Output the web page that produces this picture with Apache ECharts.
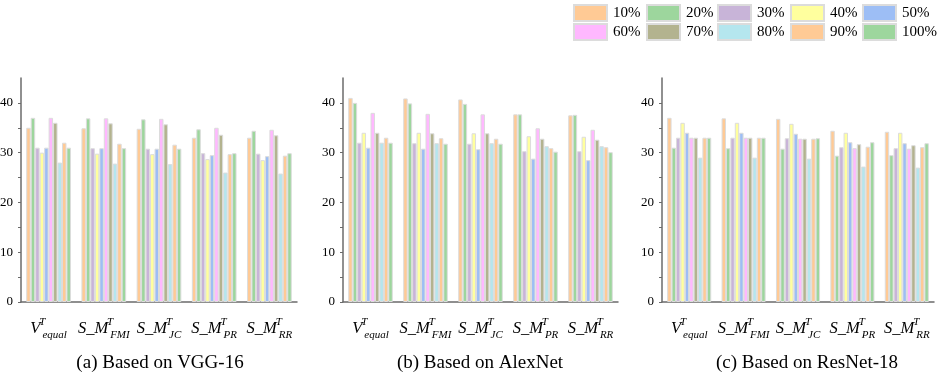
<!DOCTYPE html>
<html>
<head>
<meta charset="utf-8">
<script src="https://cdn.jsdelivr.net/npm/echarts@6/dist/echarts.min.js"></script>
<style>
  html, body { margin: 0; padding: 0; background: #fff; }
  #chart { width: 945px; height: 376px; }
</style>
</head>
<body>
<div id="chart"></div>
<script>
// Pruning ratios (one bar per ratio within each method group)
const ratios = ['10%', '20%', '30%', '40%', '50%', '60%', '70%', '80%', '90%', '100%'];
const ratioColors = ['#FFCA95', '#9DD69D', '#C8B4D8', '#FFFF9E', '#9DBEF5',
                     '#FFB8FF', '#B3B38F', '#B5E6EE', '#FFCA95', '#9DD69D'];

// Methods on the x axis: main symbol, superscript, subscript
const categories = ['V_equal', 'S_M_FMI', 'S_M_JC', 'S_M_PR', 'S_M_RR'];
const catMain = ['V', 'S_M', 'S_M', 'S_M', 'S_M'];
const catSup = 'T';
const catSub = ['equal', 'FMI', 'JC', 'PR', 'RR'];

const yTicks = [0, 10, 20, 30, 40];
const panelTitles = ['(a) Based on VGG-16', '(b) Based on AlexNet', '(c) Based on ResNet-18'];

// Rows: ratio 10% .. 100%; columns: the five methods
const vgg16Values = [
  [35.0, 34.9, 34.8, 33.0, 33.0],
  [37.0, 36.9, 36.7, 34.7, 34.4],
  [31.0, 30.9, 30.8, 29.9, 29.8],
  [30.0, 29.8, 29.7, 28.7, 28.5],
  [31.0, 30.9, 30.8, 29.5, 29.3],
  [37.0, 36.9, 36.8, 35.0, 34.6],
  [36.0, 35.9, 35.7, 33.6, 33.5],
  [28.0, 27.8, 27.7, 26.0, 25.8],
  [32.0, 31.8, 31.6, 29.7, 29.4],
  [31.0, 30.9, 30.8, 29.9, 29.9]
];
const alexNetValues = [
  [41.0, 40.9, 40.7, 37.7, 37.5],
  [40.0, 39.9, 39.8, 37.7, 37.6],
  [32.0, 31.9, 31.8, 30.3, 30.3],
  [34.0, 34.0, 33.9, 33.3, 33.2],
  [31.0, 30.8, 30.7, 28.8, 28.5],
  [38.0, 37.8, 37.7, 34.9, 34.6],
  [34.0, 33.9, 33.9, 32.8, 32.6],
  [32.0, 31.9, 31.9, 31.3, 31.3],
  [33.0, 32.9, 32.8, 30.9, 31.1],
  [32.0, 31.8, 31.8, 30.2, 30.1]
];
const resNet18Values = [
  [37.0, 36.9, 36.8, 34.4, 34.2],
  [31.0, 30.9, 30.8, 29.4, 29.5],
  [33.0, 33.0, 32.9, 31.1, 30.9],
  [36.0, 36.0, 35.8, 34.0, 34.0],
  [34.0, 34.0, 33.8, 32.1, 31.9],
  [33.0, 33.0, 32.8, 30.9, 30.8],
  [33.0, 33.0, 32.8, 31.7, 31.5],
  [29.0, 29.0, 28.8, 27.2, 27.0],
  [33.0, 33.0, 32.8, 31.2, 31.1],
  [33.0, 33.0, 32.9, 32.1, 31.9]
];
const panelValues = [vgg16Values, alexNetValues, resNet18Values];

const SERIF = '"Liberation Serif", "Times New Roman", serif';
const AXIS_GREY = '#6b6b6b';

// Plot areas of the three panels (fixed, labels may sit close to the edge)
const grids = [
  { left: 21,  right: 648, top: 78, bottom: 74, outerBoundsMode: 'none', containLabel: false },
  { left: 343, right: 327, top: 78, bottom: 74, outerBoundsMode: 'none', containLabel: false },
  { left: 662, right: 11,  top: 78, bottom: 74, outerBoundsMode: 'none', containLabel: false }
];
const titleX = [160, 480, 807];

// Italic symbol with a stacked superscript / subscript
const rich = {
  m:   { fontFamily: SERIF, fontStyle: 'italic', fontSize: 16.5, color: '#000', lineHeight: 24, verticalAlign: 'middle' },
  sup: { fontFamily: SERIF, fontStyle: 'italic', fontSize: 11, color: '#000', lineHeight: 11, verticalAlign: 'top', width: 0, align: 'left', padding: [0, 0, 0, 2] },
  sub: { fontFamily: SERIF, fontStyle: 'italic', fontSize: 11, color: '#000', lineHeight: 15, verticalAlign: 'bottom' }
};

const xAxes = grids.map((g, i) => ({
  type: 'category',
  gridIndex: i,
  data: categories,
  axisLine: { lineStyle: { color: AXIS_GREY, width: 1.5 } },
  axisTick: { alignWithLabel: true, length: 4, lineStyle: { color: AXIS_GREY } },
  axisLabel: {
    margin: 15,
    interval: 0,
    formatter: (v, idx) => '{m|' + catMain[idx] + '}{sup|' + catSup + '}{sub|' + catSub[idx] + '}',
    rich: rich
  }
}));

const yAxes = grids.map((g, i) => ({
  type: 'value',
  gridIndex: i,
  min: 0,
  max: 45,
  interval: 10,
  splitLine: { show: false },
  axisLine: { show: true, lineStyle: { color: AXIS_GREY, width: 1.5 } },
  axisTick: { show: true, length: 3, customValues: [0, 5, 10, 15, 20, 25, 30, 35, 40], lineStyle: { color: AXIS_GREY } },
  axisLabel: {
    customValues: yTicks,
    margin: 8,
    color: '#000',
    fontFamily: SERIF,
    fontSize: 13
  }
}));

const series = [];
panelValues.forEach((rows, p) => {
  rows.forEach((vals, r) => {
    series.push({
      type: 'bar',
      name: ratios[r],
      xAxisIndex: p,
      yAxisIndex: p,
      data: vals,
      barGap: '0%',
      barCategoryGap: '19%',
      itemStyle: { color: ratioColors[r], borderColor: '#dcdcdc', borderWidth: 1 },
      emphasis: { disabled: true }
    });
  });
});

// Legend: two rows of five swatches
const legendCols = [573, 646, 717, 790, 862];
const legendRows = [4, 23];
const legends = ratios.map((name, i) => ({
  data: [name],
  left: legendCols[i % 5],
  top: legendRows[Math.floor(i / 5)],
  padding: 0,
  icon: 'rect',
  itemWidth: 33,
  itemHeight: 16,
  itemGap: 0,
  selectedMode: false,
  textStyle: { fontFamily: SERIF, fontSize: 15, color: '#000', padding: [0, 0, 0, 1] }
}));

const titles = panelTitles.map((t, i) => ({
  type: 'text',
  x: titleX[i],
  y: 363,
  style: {
    text: t,
    textAlign: 'center',
    textVerticalAlign: 'middle',
    fontFamily: SERIF,
    fontSize: 19,
    fill: '#000'
  }
}));

const chart = echarts.init(document.getElementById('chart'), null, { renderer: 'canvas' });
chart.setOption({
  animation: false,
  backgroundColor: '#fff',
  grid: grids,
  xAxis: xAxes,
  yAxis: yAxes,
  legend: legends,
  series: series,
  graphic: titles
});
</script>
</body>
</html>
